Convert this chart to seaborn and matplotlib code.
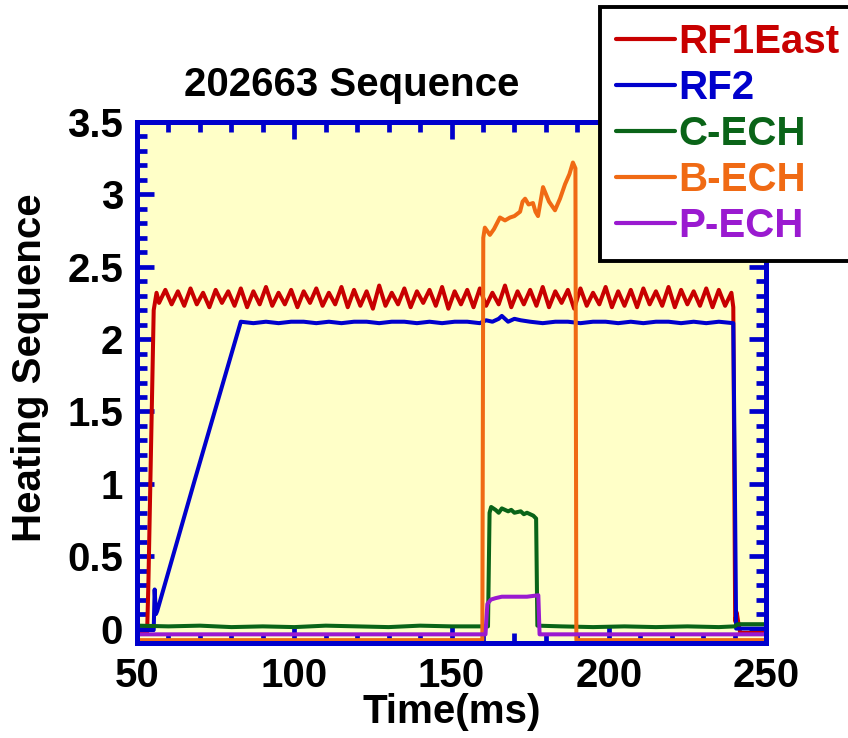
import numpy as np
import pandas as pd
import matplotlib
matplotlib.use("Agg")
import matplotlib.pyplot as plt
from matplotlib.lines import Line2D
from matplotlib.ticker import MultipleLocator, FuncFormatter
import seaborn as sns

# ---- data (time in ms, signal in a.u.) ----
signals = ["RF1East", "RF2", "C-ECH", "B-ECH", "P-ECH"]
colors = ["#C80000", "#0000CC", "#0A6418", "#F06A14", "#9A1AD0"]

# RF1East: turn-on, oscillating plateau, turn-off
t_rf1_on = [50, 53.2, 53.6, 55.3, 56.2]
v_rf1_on = [-0.03, -0.03, 0.30, 2.20, 2.32]
v_rf1_osc = [2.25, 2.34, 2.24, 2.33, 2.23, 2.35, 2.24, 2.32, 2.22, 2.34,
             2.25, 2.33, 2.23, 2.35, 2.22, 2.33, 2.24, 2.36, 2.23, 2.32,
             2.24, 2.34, 2.22, 2.33, 2.25, 2.35, 2.23, 2.32, 2.24, 2.36,
             2.22, 2.34, 2.23, 2.33, 2.21, 2.37, 2.23, 2.32, 2.24, 2.35,
             2.22, 2.33, 2.25, 2.34, 2.23, 2.36, 2.21, 2.33, 2.24, 2.34,
             2.22, 2.35, 2.23, 2.32, 2.24, 2.37, 2.22, 2.33, 2.24, 2.34,
             2.23, 2.36, 2.22, 2.33, 2.25, 2.34, 2.21, 2.35, 2.23, 2.32,
             2.24, 2.36, 2.22, 2.33, 2.23, 2.34, 2.22, 2.35, 2.24, 2.33,
             2.23, 2.36, 2.22, 2.34, 2.24, 2.33, 2.23, 2.35, 2.22, 2.34,
             2.23, 2.32]
t_rf1_osc_start, t_rf1_osc_end = 57.0, 239.0
t_rf1_off = [239.6, 240.2, 240.7, 241.2, 241.8, 250]
v_rf1_off = [2.22, 0.05, 0.11, 0.04, -0.03, -0.03]

# RF2: spike, linear ramp, flat plateau, turn-off
t_rf2 = [50, 55.3, 55.6, 56.0, 56.4, 68.4, 83.0,
         87, 91, 95, 99, 103, 107, 111, 115, 119, 123, 127, 131, 135,
         139, 143, 147, 151, 155, 159, 161, 163, 165, 166, 168, 170, 172,
         175, 179, 183, 187, 191, 195, 199, 203, 207, 211, 215, 219, 223,
         227, 231, 235, 239.6, 240.1, 240.5, 250]
v_rf2 = [-0.01, -0.01, 0.27, 0.10, 0.12, 1.03, 2.12,
         2.11, 2.12, 2.11, 2.12, 2.12, 2.11, 2.12, 2.11, 2.12, 2.12, 2.11, 2.12, 2.12,
         2.11, 2.12, 2.11, 2.12, 2.12, 2.11, 2.13, 2.12, 2.14, 2.16, 2.12, 2.14, 2.13,
         2.12, 2.11, 2.12, 2.12, 2.11, 2.12, 2.12, 2.11, 2.12, 2.11, 2.12, 2.12, 2.11,
         2.12, 2.11, 2.12, 2.11, 1.00, 0.00, 0.00]

# C-ECH
t_cech = [50, 60, 70, 80, 90, 100, 110, 120, 130, 140, 150, 161.6,
          162.1, 162.6, 164, 165, 166, 168, 169, 170, 172, 173, 174, 176, 176.9,
          177.3, 185, 195, 205, 215, 225, 235, 240, 241, 250]
v_cech = [0.02, 0.015, 0.02, 0.01, 0.015, 0.01, 0.02, 0.015, 0.01, 0.02, 0.015, 0.015,
          0.80, 0.84, 0.82, 0.80, 0.83, 0.81, 0.82, 0.80, 0.81, 0.79, 0.80, 0.78, 0.76,
          0.02, 0.015, 0.01, 0.015, 0.01, 0.015, 0.01, 0.015, 0.03, 0.03]

# B-ECH
t_bech = [50, 159.8, 160.1, 160.6, 162.2, 163.5, 165.4, 167, 168.6, 170, 171.8,
          172.6, 173.4, 174.5, 175.9, 176.7, 177.5, 179.1, 181, 182.9, 184.5,
          186.1, 187.5, 188.6, 189.4, 189.7, 250]
v_bech = [-0.08, -0.08, 2.70, 2.77, 2.72, 2.76, 2.84, 2.82, 2.84, 2.85, 2.88,
          2.95, 2.97, 2.93, 2.94, 2.88, 2.85, 3.05, 2.95, 2.89, 2.97,
          3.07, 3.14, 3.22, 3.18, -0.08, -0.08]

# P-ECH
t_pech = [50, 160.8, 161.4, 162.5, 164, 166, 170, 174, 177.6, 178.0, 250]
v_pech = [-0.04, -0.04, 0.17, 0.20, 0.21, 0.22, 0.22, 0.22, 0.23, -0.04, -0.04]

# ---- assemble long table ----
t_rf1_osc = np.linspace(t_rf1_osc_start, t_rf1_osc_end, len(v_rf1_osc))
t_rf1 = np.concatenate([t_rf1_on, t_rf1_osc, t_rf1_off])
v_rf1 = np.concatenate([v_rf1_on, v_rf1_osc, v_rf1_off])

series = {
    "RF1East": (t_rf1, v_rf1),
    "RF2": (t_rf2, v_rf2),
    "C-ECH": (t_cech, v_cech),
    "B-ECH": (t_bech, v_bech),
    "P-ECH": (t_pech, v_pech),
}
frames = []
for name in signals:
    t, v = series[name]
    frames.append(pd.DataFrame({"Time": t, "Value": v, "Signal": name}))
df = pd.concat(frames, ignore_index=True)

# ---- style ----
sns.set_theme(style="ticks")
plt.rcParams["font.family"] = ["Liberation Sans", "DejaVu Sans"]
plt.rcParams["font.weight"] = "bold"
plt.rcParams["text.color"] = "black"
plt.rcParams["axes.labelcolor"] = "black"

axis_blue = "#0000CC"
fs = 29

fig = plt.figure(figsize=(8.48, 7.38), dpi=100)
ax = fig.add_axes([0.1616, 0.1287, 0.7417, 0.706])
ax.set_facecolor("#FFFFC8")

palette = dict(zip(signals, colors))
sns.lineplot(data=df, x="Time", y="Value", hue="Signal", hue_order=signals,
             palette=palette, estimator=None, sort=False, linewidth=2.9,
             legend=False, ax=ax)

ax.set_xlim(50, 250)
ax.set_ylim(-0.1, 3.5)
ax.xaxis.set_major_locator(MultipleLocator(50))
ax.xaxis.set_minor_locator(MultipleLocator(10))
ax.yaxis.set_major_locator(MultipleLocator(0.5))
ax.yaxis.set_minor_locator(MultipleLocator(0.1))
ax.yaxis.set_major_formatter(FuncFormatter(lambda v, p: "%g" % v))

for sp in ax.spines.values():
    sp.set_color(axis_blue)
    sp.set_linewidth(3.6)
ax.tick_params(which="both", direction="in", top=True, right=True,
               color=axis_blue, width=3.4, labelsize=fs, labelcolor="black")
ax.tick_params(which="major", length=12, pad=10)
ax.tick_params(which="minor", length=7)
for lab in ax.get_xticklabels() + ax.get_yticklabels():
    lab.set_fontweight("bold")

ax.set_xlabel("")
ax.set_ylabel("")
fig.text(452 / 848, 1 - 712 / 738, "Time(ms)", ha="center", va="center",
         fontsize=fs, fontweight="bold", color="black")
fig.text(30 / 848, 1 - 368 / 738, "Heating Sequence", ha="center", va="center",
         rotation=90, fontsize=fs, fontweight="bold", color="black")
fig.text(352 / 848, 1 - 85 / 738, "202663 Sequence", ha="center", va="center",
         fontsize=29, fontweight="bold", color="black")

handles = [Line2D([], [], color=c, linewidth=3) for c in colors]
leg = ax.legend(handles, signals, loc="upper left",
                bbox_to_anchor=(600 / 848, 1 - 7 / 738),
                bbox_transform=fig.transFigure, borderaxespad=0,
                frameon=True, fancybox=False, framealpha=1,
                edgecolor="black", facecolor="white",
                prop={"size": fs, "weight": "bold"},
                handlelength=1.45, handletextpad=0.1, labelspacing=0.2,
                borderpad=0.4)
leg.get_frame().set_linewidth(2.8)
for txt, c in zip(leg.get_texts(), colors):
    txt.set_color(c)

fig.savefig("out.png", dpi=100)
